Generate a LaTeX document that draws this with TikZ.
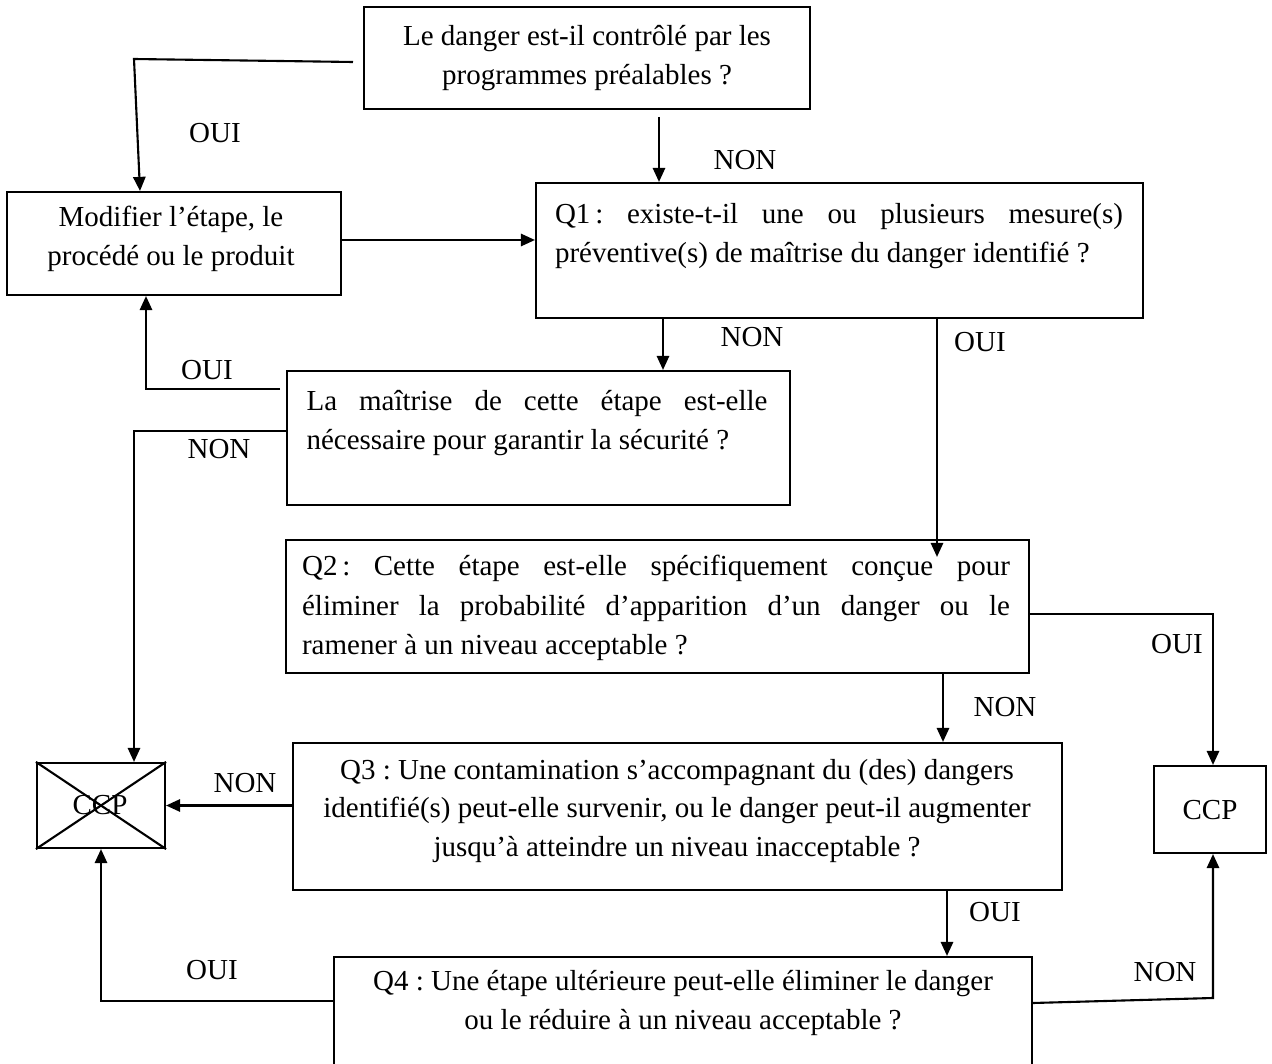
\documentclass[tikz,border=0pt]{standalone}
\usepackage{fontspec}
\setmainfont{Liberation Serif}
\usetikzlibrary{arrows.meta,calc,fit}

\tikzset{
  box/.style={draw, line width=1.2pt, inner sep=0pt},
  txt/.style={inner sep=0pt, font=\fontsize{16.5}{22.5}\selectfont\frenchspacing},
  lbl/.style={inner sep=0pt, font=\fontsize{16.5}{22.5}\selectfont},
  arr/.style={line width=1.2pt, -{Triangle[length=8pt,width=7pt]}},
}

\begin{document}
\begin{tikzpicture}[x=0.02cm, y=-0.02cm]
	\useasboundingbox (0,0) rectangle (1272,1064);
	\clip (0,0) rectangle (1272,1064);

	%%%%% boxes %%%%%
	\node[box, fit={(364,7) (810,109)}] (top) {};
	\node[txt, align=center] (toptxt) at (587,58) {Le danger est-il contrôlé par les\\programmes préalables ?};

	\node[box, fit={(7,192) (341,295)}] (modif) {};
	\node[txt, align=center] (modiftxt) at (171,239) {Modifier l’étape, le\\procédé ou le produit};

	\node[box, fit={(536,183) (1143,318)}] (q1) {};
	\node[txt, text width=11.36cm, align=justify] (q1txt) at (839,236) {Q1\,: existe-t-il une ou plusieurs mesure(s)\linebreak préventive(s)~de~maîtrise~du~danger~identifié~?};

	\node[box, fit={(287,371) (790,505)}] (mait) {};
	\node[txt, text width=9.22cm, align=justify] (maittxt) at (537,423) {La maîtrise de cette étape est-elle\linebreak nécessaire~pour~garantir~la~sécurité~?};

	\node[box, fit={(286,540) (1029,673)}] (q2) {};
	\node[txt, text width=14.16cm, align=justify] (q2txt) at (656,608) {Q2\,: Cette étape est-elle spécifiquement conçue pour\linebreak éliminer la probabilité d’apparition d’un danger ou le\linebreak ramener~à~un~niveau~acceptable~?};

	\node[box, fit={(293,743) (1062,890)}] (q3) {};
	\node[txt, align=center, font=\fontsize{16.5}{22}\selectfont\frenchspacing] (q3txt) at (677,811) {Q3 : Une contamination s’accompagnant du (des) dangers\\identifié(s) peut-elle survenir, ou le danger peut-il augmenter\\jusqu’à atteindre un niveau inacceptable ?};

	\node[box, fit={(334,957) (1032,1100)}] (q4) {};
	\node[txt, align=center] (q4txt) at (683,1003) {Q4 : Une étape ultérieure peut-elle éliminer le danger\\ou le réduire à un niveau acceptable ?};

	\node[box, fit={(37,763) (165,848)}] (ccpx) {};
	\node[txt] (ccpxtxt) at (100,805) {CCP};
	\draw[line width=1.2pt] (ccpx.north west) -- (ccpx.south east);
	\draw[line width=1.2pt] (ccpx.south west) -- (ccpx.north east);

	\node[box, fit={(1154,766) (1266,853)}] (ccp) {};
	\node[txt] (ccptxt) at (1210,810) {CCP};

	%%%%% connectors %%%%%
	\coordinate (s1) at (353,62);
	\draw[arr] (s1) -- (134,59) -- (140,0 |- modif.north);
	\coordinate (s2) at (659,117);
	\draw[arr] (s2) -- (s2 |- q1.north);
	\draw[arr] (modif.east |- 0,240) -- (q1.west |- 0,240);
	\draw[arr] (663,0 |- q1.south) -- (663,0 |- mait.north);
	\draw[arr] (937,0 |- q1.south) -- ($(937,0 |- q2.north)+(0,18)$);
	\coordinate (s3) at (280,389);
	\draw[arr] (s3) -- (146,389) -- (146,0 |- modif.south);
	\draw[arr] (mait.west |- 0,431) -- (134,431) -- (134,0 |- ccpx.north);
	\draw[arr] (q2.east |- 0,614) -- (1213,614) -- (1213,0 |- ccp.north);
	\draw[arr] (943,0 |- q2.south) -- (943,0 |- q3.north);
	\draw[arr] (q3.west |- ccpx.east) -- (ccpx.east);
	\draw[arr] (947,0 |- q3.south) -- (947,0 |- q4.north);
	\draw[arr] (q4.west |- 0,1001) -| (ccpx.south);
	\draw[arr] (q4.east |- 0,1003) -- (1213,998) -- (1213,0 |- ccp.south);

	%%%%% labels %%%%%
	\node[lbl] (oui1) at (215,133) {OUI};
	\node[lbl] (non1) at (745,160) {NON};
	\node[lbl] (non2) at (752,337) {NON};
	\node[lbl] (oui2) at (980,342) {OUI};
	\node[lbl] (oui3) at (207,370) {OUI};
	\node[lbl] (non3) at (219,449) {NON};
	\node[lbl] (oui4) at (1177,644) {OUI};
	\node[lbl] (non4) at (1005,707) {NON};
	\node[lbl] (non5) at (245,783) {NON};
	\node[lbl] (oui5) at (995,912) {OUI};
	\node[lbl] (oui6) at (212,970) {OUI};
	\node[lbl] (non6) at (1165,972) {NON};
\end{tikzpicture}
\end{document}
